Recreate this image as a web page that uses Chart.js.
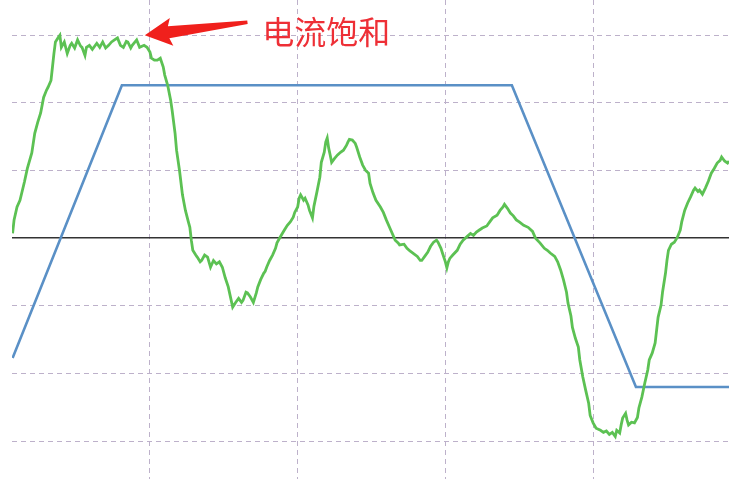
<!DOCTYPE html>
<html>
<head>
<meta charset="utf-8">
<script src="https://cdn.jsdelivr.net/npm/chart.js@4.4.1/dist/chart.umd.min.js"></script>
<style>
html,body{margin:0;padding:0;background:#fff;}
#wrap{width:729px;height:479px;}
</style>
</head>
<body>
<div id="wrap"><canvas id="c" width="729" height="479"></canvas></div>
<script>
// measured current (green, noisy) — x in grid units, y in grid units (0 = black axis line)
const currentX = [0.07,0.08,0.10,0.12,0.15,0.17,0.20,0.22,0.24,0.26,0.28,0.30,0.31,0.33,0.34,0.35,0.36,0.38,0.39,0.40,0.42,0.44,0.46,0.47,0.49,0.51,0.53,0.54,0.56,0.57,0.59,0.61,0.64,0.66,0.68,0.70,0.72,0.74,0.76,0.78,0.80,0.82,0.84,0.85,0.87,0.88,0.91,0.93,0.96,0.98,1.00,1.01,1.03,1.05,1.07,1.09,1.10,1.12,1.14,1.15,1.17,1.18,1.20,1.22,1.24,1.26,1.27,1.28,1.29,1.31,1.32,1.34,1.35,1.37,1.39,1.41,1.43,1.45,1.47,1.49,1.51,1.53,1.55,1.56,1.58,1.60,1.62,1.63,1.65,1.66,1.68,1.70,1.72,1.73,1.75,1.77,1.78,1.79,1.81,1.83,1.85,1.86,1.88,1.91,1.93,1.95,1.97,1.98,2.00,2.01,2.02,2.04,2.05,2.07,2.08,2.10,2.11,2.13,2.15,2.16,2.18,2.19,2.20,2.21,2.22,2.23,2.25,2.27,2.29,2.31,2.33,2.34,2.35,2.37,2.39,2.40,2.42,2.44,2.46,2.48,2.49,2.51,2.53,2.56,2.58,2.60,2.63,2.66,2.68,2.69,2.72,2.74,2.76,2.78,2.81,2.83,2.84,2.86,2.88,2.90,2.92,2.94,2.95,2.97,2.98,3.00,3.01,3.02,3.03,3.05,3.08,3.10,3.12,3.15,3.17,3.19,3.21,3.23,3.25,3.28,3.30,3.32,3.35,3.37,3.39,3.40,3.42,3.44,3.46,3.48,3.50,3.53,3.56,3.59,3.61,3.64,3.67,3.69,3.71,3.74,3.76,3.78,3.80,3.82,3.83,3.85,3.86,3.88,3.90,3.91,3.93,3.95,3.97,3.98,4.00,4.02,4.05,4.07,4.09,4.11,4.13,4.15,4.16,4.18,4.19,4.20,4.22,4.23,4.24,4.26,4.28,4.30,4.31,4.33,4.35,4.37,4.38,4.40,4.42,4.43,4.44,4.46,4.47,4.49,4.50,4.51,4.53,4.55,4.57,4.59,4.60,4.62,4.64,4.66,4.68,4.69,4.71,4.72,4.74,4.76,4.78,4.80,4.82,4.84,4.86,4.87,4.89,4.91,4.92];
const currentY = [0.07,0.27,0.46,0.56,0.83,1.03,1.26,1.55,1.71,1.85,2.08,2.19,2.23,2.33,2.53,2.73,2.90,2.97,3.00,2.82,2.90,2.73,2.85,2.88,2.81,2.93,2.84,2.82,2.70,2.82,2.85,2.79,2.88,2.82,2.90,2.81,2.85,2.90,2.93,2.96,2.85,2.82,2.91,2.90,2.81,2.85,2.93,2.82,2.85,2.82,2.75,2.66,2.63,2.63,2.66,2.53,2.41,2.26,2.04,1.89,1.55,1.30,1.00,0.64,0.41,0.24,0.16,-0.03,-0.18,-0.25,-0.28,-0.35,-0.33,-0.25,-0.28,-0.43,-0.33,-0.38,-0.35,-0.43,-0.59,-0.72,-0.92,-1.02,-0.95,-0.89,-0.95,-0.92,-0.80,-0.81,-0.87,-0.95,-0.81,-0.72,-0.61,-0.52,-0.49,-0.43,-0.33,-0.25,-0.15,-0.07,0.01,0.12,0.19,0.24,0.31,0.38,0.46,0.59,0.64,0.56,0.59,0.49,0.41,0.30,0.47,0.68,0.90,1.12,1.27,1.42,1.48,1.33,1.23,1.12,1.18,1.23,1.27,1.30,1.37,1.42,1.46,1.45,1.40,1.34,1.20,1.08,1.00,0.96,0.81,0.67,0.56,0.46,0.38,0.27,0.12,-0.03,-0.07,-0.10,-0.09,-0.15,-0.19,-0.22,-0.27,-0.33,-0.33,-0.27,-0.21,-0.12,-0.06,-0.03,-0.06,-0.15,-0.22,-0.35,-0.44,-0.35,-0.30,-0.25,-0.18,-0.09,-0.03,0.03,0.07,0.04,0.09,0.12,0.15,0.18,0.24,0.30,0.34,0.41,0.46,0.50,0.44,0.37,0.33,0.27,0.24,0.19,0.16,0.10,0.00,-0.07,-0.15,-0.18,-0.22,-0.27,-0.35,-0.47,-0.62,-0.80,-0.96,-1.15,-1.32,-1.48,-1.61,-1.80,-2.05,-2.25,-2.44,-2.62,-2.73,-2.81,-2.84,-2.87,-2.85,-2.90,-2.87,-2.93,-2.84,-2.88,-2.76,-2.66,-2.59,-2.69,-2.76,-2.72,-2.73,-2.65,-2.51,-2.35,-2.14,-1.95,-1.80,-1.70,-1.55,-1.36,-1.17,-0.99,-0.80,-0.52,-0.33,-0.18,-0.09,-0.06,0.01,0.12,0.24,0.41,0.52,0.61,0.71,0.74,0.69,0.71,0.65,0.74,0.84,0.96,1.03,1.11,1.15,1.20,1.14,1.11,1.14];
// command (blue trapezoid)
const commandX = [0.07,0.81,3.45,4.29,4.92];
const commandY = [-1.77,2.26,2.26,-2.20,-2.20];
// annotation
const noteText = '电流饱和';
const arrowTip = [0.965,3.00];
const arrowTail = [1.66,3.19];
const notePos = [1.76,3.05];
const xGrid = [1,2,3,4];
const yGrid = [-3,-2,-1,0,1,2,3];

const toPts = (xs, ys) => xs.map((x,i)=>({x, y: ys[i]}));

const annotate = {
  id:'annotate',
  afterDatasetsDraw(chart){
    const {ctx, scales:{x, y}} = chart;
    const tx = x.getPixelForValue(arrowTip[0]), ty = y.getPixelForValue(arrowTip[1]);
    const ex = x.getPixelForValue(arrowTail[0]), ey = y.getPixelForValue(arrowTail[1]);
    const ang = Math.atan2(ey-ty, ex-tx);
    const len = Math.hypot(ex-tx, ey-ty);
    ctx.save();
    ctx.translate(tx, ty);
    ctx.rotate(ang);
    ctx.fillStyle = '#f0201c';
    ctx.beginPath();
    ctx.moveTo(0,0);
    ctx.lineTo(27,-14);
    ctx.lineTo(24,-6);
    ctx.lineTo(len,-1.8);
    ctx.lineTo(len,1.8);
    ctx.lineTo(24,6);
    ctx.lineTo(27,14);
    ctx.closePath();
    ctx.fill();
    ctx.restore();
    ctx.save();
    ctx.fillStyle = '#ee2f36';
    ctx.font = '32px "Noto Sans CJK SC"';
    ctx.textBaseline = 'middle';
    ctx.textAlign = 'left';
    ctx.fillText(noteText, x.getPixelForValue(notePos[0]), y.getPixelForValue(notePos[1]));
    ctx.restore();
  }
};

const gridColor = c => (c.tick && c.tick.value === 0) ? '#333333' : '#bdb1ca';

new Chart(document.getElementById('c'), {
  type:'line',
  data:{
    datasets:[
      {data: toPts(currentX, currentY), borderColor:'#5cc153', borderWidth:2.8, pointRadius:0, tension:0, order:1},
      {data: toPts(commandX, commandY), borderColor:'#5a90c6', borderWidth:2.6, pointRadius:0, tension:0, order:2}
    ]
  },
  options:{
    responsive:false,
    animation:false,
    events:[],
    layout:{padding:{left:12,right:0,top:0,bottom:0}},
    plugins:{legend:{display:false}, tooltip:{enabled:false}},
    scales:{
      x:{
        type:'linear', min:0.066, max:4.92,
        afterBuildTicks: s => { s.ticks = xGrid.map(v=>({value:v})); },
        ticks:{display:false},
        grid:{color:'#bdb1ca', lineWidth:1, drawTicks:false},
        border:{display:false, dash:[5,4]}
      },
      y:{
        type:'linear', min:-3.56, max:3.52,
        afterBuildTicks: s => { s.ticks = yGrid.map(v=>({value:v})); },
        ticks:{display:false},
        grid:{color: gridColor, lineWidth: c => (c.tick && c.tick.value===0) ? 1.5 : 1, drawTicks:false},
        border:{display:false, dash: c => (c.tick && c.tick.value===0) ? [] : [5,4]}
      }
    }
  },
  plugins:[annotate]
});
</script>
</body>
</html>
